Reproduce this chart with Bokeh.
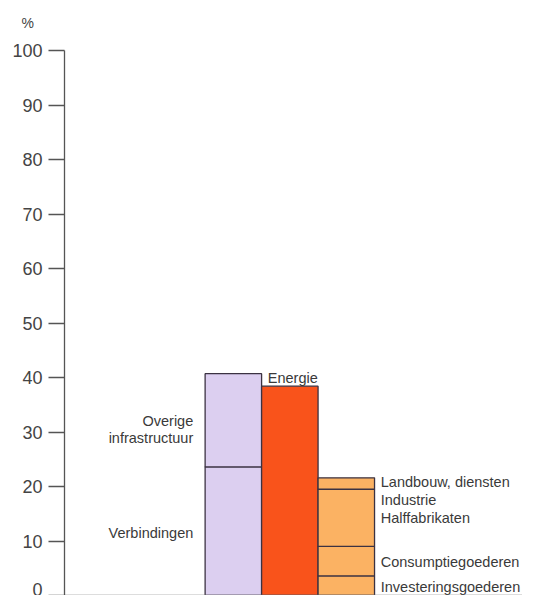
from bokeh.plotting import figure
from bokeh.models import FixedTicker, Range1d
from bokeh.embed import file_html
from bokeh.resources import INLINE
from bokeh.core.properties import value

# --- data ---
bar_positions = [0, 1, 2]
bar_colors = ["#dccff0", "#f9531b", "#fbb263"]
# stacked segments per bar (bottom -> top)
bar0_names = ["Verbindingen", "Overige\ninfrastructuur"]
bar0_values = [23.6, 17.1]
bar1_names = ["Energie"]
bar1_values = [38.4]
bar2_names = ["Investeringsgoederen", "Consumptiegoederen", "Industrie\nHalffabrikaten", "Landbouw, diensten"]
bar2_values = [3.6, 5.4, 10.5, 2.1]
y_ticks = [0, 10, 20, 30, 40, 50, 60, 70, 80, 90, 100]
unit_label = "%"

FONT = "Liberation Sans"
TXT = "#3a3a3a"
LBL_SIZE = "14.5px"

p = figure(width=522, height=595, output_backend="svg", toolbar_location=None,
           x_range=Range1d(-2.99, 5.12), y_range=Range1d(0, 100),
           min_border_top=50, min_border_left=64, min_border_right=0, min_border_bottom=0)
p.background_fill_color = "white"
p.border_fill_color = "white"
p.outline_line_color = None
p.grid.visible = False

p.title.text = unit_label + "\n "
p.title.align = "left"
p.title.offset = -43
p.title.text_font = FONT
p.title.text_font_size = "14px"
p.title.text_font_style = "normal"
p.title.text_color = "#444444"
p.title.standoff = 8

def stack(vals):
    bottoms, tops, acc = [], [], 0.0
    for v in vals:
        bottoms.append(acc)
        acc += v
        tops.append(acc)
    return bottoms, tops

all_stacks = [bar0_values, bar1_values, bar2_values]
for pos, vals, col in zip(bar_positions, all_stacks, bar_colors):
    b, t = stack(vals)
    p.vbar(x=[pos] * len(vals), width=1.0, bottom=b, top=t,
           fill_color=col, line_color="#3b3242", line_width=1.3)

# labels
b0, t0 = stack(bar0_values)
mids0 = [(bb + tt) / 2 for bb, tt in zip(b0, t0)]
label_y0 = [mids0[0] - 0.3, mids0[1] - 1.7]
p.text(x=[-0.71] * len(bar0_names), y=label_y0, text=bar0_names,
       text_align="right", text_baseline="middle", text_font=value(FONT),
       text_font_size=LBL_SIZE, text_color=TXT, text_line_height=1.1)

b1, t1 = stack(bar1_values)
p.text(x=[0.61], y=[t1[-1] + 1.6], text=bar1_names,
       text_align="left", text_baseline="middle", text_font=value(FONT),
       text_font_size=LBL_SIZE, text_color=TXT)

b2, t2 = stack(bar2_values)
label_y2 = [1.6, 6.1, 15.9, 20.9]
p.text(x=[2.61] * len(bar2_names), y=label_y2, text=bar2_names,
       text_align="left", text_baseline="middle", text_font=value(FONT),
       text_font_size=LBL_SIZE, text_color=TXT, text_line_height=1.1)

# axes
yax = p.yaxis[0]
yax.ticker = FixedTicker(ticks=y_ticks)
yax.major_tick_out = 16
yax.major_tick_in = 0
yax.minor_tick_line_color = None
yax.axis_line_color = "#555555"
yax.axis_line_width = 1.3
yax.major_tick_line_color = "#555555"
yax.major_tick_line_width = 1.3
yax.major_label_text_font = FONT
yax.major_label_text_font_size = "18px"
yax.major_label_text_color = "#444444"
yax.major_label_standoff = 6

xax = p.xaxis[0]
xax.ticker = FixedTicker(ticks=[])
xax.major_tick_line_color = None
xax.minor_tick_line_color = None
xax.axis_line_color = "#777777"
xax.axis_line_width = 1.3

open("out.html", "w").write(file_html(p, INLINE))
